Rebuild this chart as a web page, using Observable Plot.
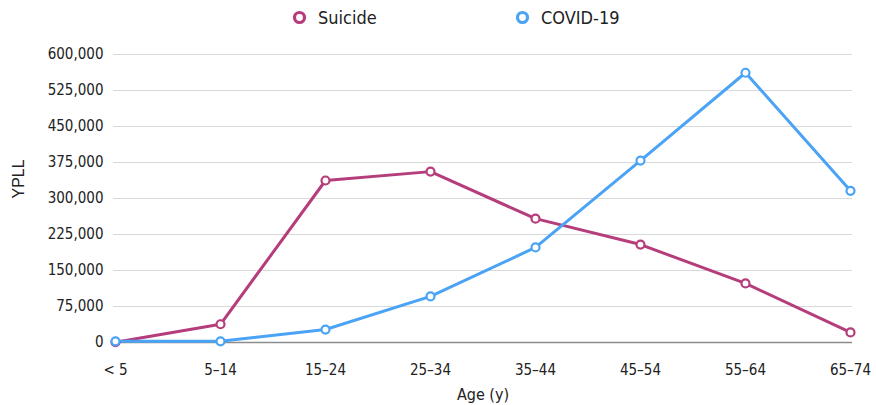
<!DOCTYPE html>
<html>
<head>
<meta charset="utf-8">
<script src="https://cdn.jsdelivr.net/npm/d3@7"></script>
<script src="https://cdn.jsdelivr.net/npm/@observablehq/plot@0.6"></script>
<style>
  html, body { margin: 0; padding: 0; background: #fff; }
  #legend { height: 36px; position: relative; font-family: "Liberation Sans Narrow", "DejaVu Sans Condensed", sans-serif; font-size: 18px; color: #222; }
  .item { display: flex; align-items: center; position: absolute; top: 7px; }
  .item svg { margin-right: 11px; }
  #chart svg { overflow: visible; }
</style>
</head>
<body>
<div id="legend"></div>
<div id="chart"></div>
<script>
const ageGroups = ["< 5", "5–14", "15–24", "25–34", "35–44", "45–54", "55–64", "65–74"];
const suicideYPLL = [500, 38000, 337500, 356000, 258000, 204000, 123000, 21000];
const covidYPLL = [2500, 2500, 27000, 96000, 198000, 379000, 562000, 316000];
const yTicks = [0, 75000, 150000, 225000, 300000, 375000, 450000, 525000, 600000];
const seriesNames = ["Suicide", "COVID-19"];
const seriesColors = ["#b63d7b", "#4aa3f5"];

const data = [];
ageGroups.forEach((a, i) => {
  data.push({age: a, value: suicideYPLL[i], series: seriesNames[0]});
  data.push({age: a, value: covidYPLL[i], series: seriesNames[1]});
});

// legend
const legend = document.getElementById("legend");
const legendX = [292, 515];
seriesNames.forEach((n, i) => {
  const d = document.createElement("div");
  d.className = "item";
  d.style.left = legendX[i] + "px";
  d.innerHTML = `<svg width="15" height="15"><circle cx="7.5" cy="7.5" r="5" fill="#fff" stroke="${seriesColors[i]}" stroke-width="3.2"/></svg><span>${n}</span>`;
  legend.appendChild(d);
});

const font = "'Liberation Sans Narrow', 'DejaVu Sans Condensed', sans-serif";
const chart = Plot.plot({
  width: 876,
  height: 369,
  marginTop: 18,
  marginBottom: 63,
  marginLeft: 113,
  marginRight: 24,
  style: {fontFamily: font, fontSize: "15px", color: "#222", background: "#fff", overflow: "visible"},
  x: {type: "point", domain: ageGroups, padding: 0, label: null},
  y: {domain: [0, 600000], ticks: yTicks, tickFormat: d3.format(","), label: null},
  color: {domain: seriesNames, range: seriesColors},
  marks: [
    Plot.gridY(yTicks, {stroke: "#d9d9d9", strokeOpacity: 1, strokeWidth: 1}),
    Plot.ruleY([0], {stroke: "#8c8c8c", strokeWidth: 1.5}),
    Plot.axisY({ticks: yTicks, tickFormat: d3.format(","), tickSize: 0, tickPadding: 10, label: null, fontSize: 15}),
    Plot.axisX({tickSize: 0, tickPadding: 22, label: null, fontSize: 15}),
    Plot.text(["Age (y)"], {frameAnchor: "bottom", dy: 57, fontSize: 16}),
    Plot.text(["YPLL"], {frameAnchor: "left", dx: -95, rotate: -90, fontSize: 16, fontFamily: "'Liberation Sans', Arial, sans-serif"}),
    Plot.line(data, {x: "age", y: "value", z: "series", stroke: "series", strokeWidth: 3}),
    Plot.dot(data, {x: "age", y: "value", stroke: "series", fill: "#fff", r: 4, strokeWidth: 2.2})
  ]
});
document.getElementById("chart").appendChild(chart);
</script>
</body>
</html>
